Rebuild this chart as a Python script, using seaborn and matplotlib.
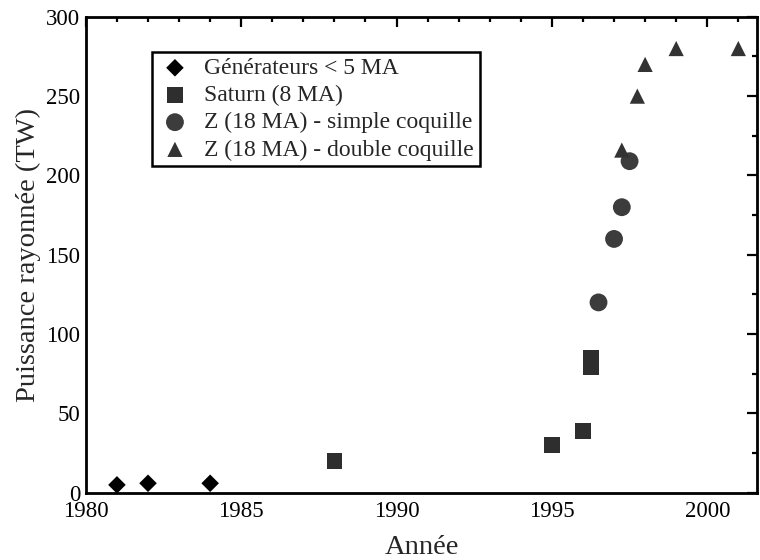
import numpy as np
import pandas as pd
import matplotlib
matplotlib.use("Agg")
import matplotlib.pyplot as plt
from matplotlib.ticker import MultipleLocator
import seaborn as sns

# Radiated power of pulsed-power drivers over the years
gen_years = [1981, 1982, 1984]
gen_power = [5, 6, 6]

saturn_years = [1988, 1995, 1996, 1996.25, 1996.25]
saturn_power = [20, 30, 39, 79, 85]

z_simple_years = [1996.5, 1997.0, 1997.25, 1997.5]
z_simple_power = [120, 160, 180, 209]

z_double_years = [1997.25, 1997.75, 1998.0, 1999.0, 2001.0]
z_double_power = [216, 250, 270, 280, 280]

series_names = [
    "Générateurs < 5 MA",
    "Saturn (8 MA)",
    "Z (18 MA) - simple coquille",
    "Z (18 MA) - double coquille",
]

frames = []
for name, xs, ys in zip(
    series_names,
    [gen_years, saturn_years, z_simple_years, z_double_years],
    [gen_power, saturn_power, z_simple_power, z_double_power],
):
    frames.append(pd.DataFrame({"Année": xs, "Puissance": ys, "Série": name}))
df = pd.concat(frames, ignore_index=True)

sns.set_theme(style="white")
plt.rcParams["font.family"] = ["Liberation Serif", "DejaVu Serif"]

fig = plt.figure(figsize=(7.6, 5.6), dpi=100)
ax = fig.add_axes([0.113, 0.12, 0.883, 0.85])

palette = {
    series_names[0]: "#000000",
    series_names[1]: "#2e2e2e",
    series_names[2]: "#3c3c3c",
    series_names[3]: "#333333",
}
markers = {
    series_names[0]: "D",
    series_names[1]: "s",
    series_names[2]: "o",
    series_names[3]: "^",
}
sizes = {
    series_names[0]: 80,
    series_names[1]: 130,
    series_names[2]: 165,
    series_names[3]: 120,
}

for name in series_names:
    sub = df[df["Série"] == name]
    sns.scatterplot(
        data=sub, x="Année", y="Puissance", ax=ax,
        color=palette[name], marker=markers[name], s=sizes[name],
        edgecolor="none", linewidth=0, label=name, zorder=3,
    )

ax.set_xlim(1980, 2001.6)
ax.set_ylim(0, 300)
ax.xaxis.set_major_locator(MultipleLocator(5))
ax.xaxis.set_minor_locator(MultipleLocator(1))
ax.yaxis.set_major_locator(MultipleLocator(50))
ax.yaxis.set_minor_locator(MultipleLocator(25))

ax.tick_params(which="both", direction="in", top=True, right=True,
               labelsize=16.5, colors="black", width=1.6)
ax.tick_params(which="major", length=7)
ax.tick_params(which="minor", length=3.5)
ax.tick_params(axis="x", which="major", pad=6)
ax.tick_params(axis="y", which="major", pad=4)
for sp in ax.spines.values():
    sp.set_linewidth(2)
    sp.set_color("black")

ax.set_xlabel("Année", fontsize=20.5, labelpad=9)
ax.set_ylabel("Puissance rayonnée (TW)", fontsize=20.5, labelpad=4)

leg = ax.legend(
    loc="upper left", bbox_to_anchor=(0.0984, 0.927), borderaxespad=0,
    fontsize=17, frameon=True, fancybox=False, framealpha=1,
    edgecolor="black", handletextpad=0.5, labelspacing=0.24,
    borderpad=0.25, handlelength=1.45,
)
leg.get_frame().set_linewidth(1.8)

fig.savefig("out.png", dpi=100)
